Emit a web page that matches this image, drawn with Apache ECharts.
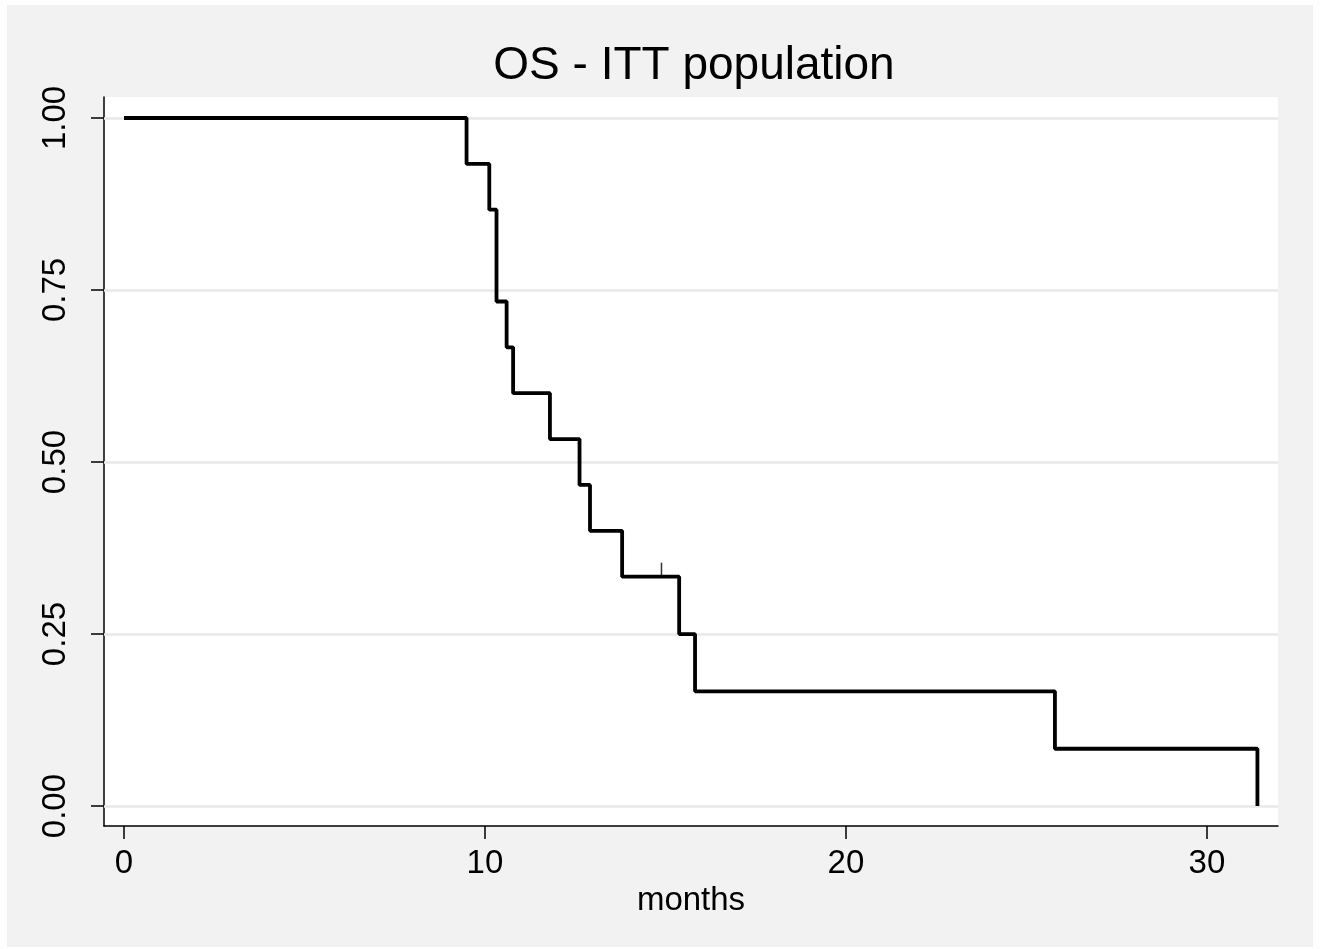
<!DOCTYPE html>
<html>
<head>
<meta charset="utf-8">
<script src="https://cdn.jsdelivr.net/npm/echarts@6/dist/echarts.min.js"></script>
<style>html,body{margin:0;padding:0;background:#fff}#c{width:1321px;height:949px}</style>
</head>
<body>
<div id="c"></div>
<script>
// Kaplan-Meier step data (months, survival probability)
const months = [0, 9.49, 10.12, 10.32, 10.60, 10.78, 11.80, 12.62, 12.91, 13.80, 15.38, 15.82, 25.79, 31.40];
const survival = [1.0, 0.9333, 0.8667, 0.7333, 0.6667, 0.6, 0.5333, 0.4667, 0.4, 0.3333, 0.25, 0.1667, 0.0833, 0.0];
const censorMonths = [14.89];
const censorSurvival = [0.3333];
const xTicks = [0, 10, 20, 30];
const yTicks = [0, 0.25, 0.5, 0.75, 1.0];
const yTickLabels = ['0.00', '0.25', '0.50', '0.75', '1.00'];

const font = 'Liberation Sans, Arial, Helvetica, sans-serif';
const chart = echarts.init(document.getElementById('c'), null, {renderer: 'canvas'});
chart.setOption({
  backgroundColor: '#ffffff',
  animation: false,
  graphic: [{
    type: 'rect', z: -10, silent: true,
    shape: {x: 7, y: 5, width: 1306, height: 942},
    style: {fill: '#f2f2f2'}
  }],
  title: {
    text: 'OS - ITT population',
    left: 689, top: 38, textAlign: 'center',
    textStyle: {fontFamily: font, fontSize: 46, fontWeight: 'normal', color: '#000'}
  },
  grid: {
    left: 104, top: 97, width: 1174, height: 729,
    show: true, backgroundColor: '#ffffff', borderWidth: 0
  },
  xAxis: {
    type: 'value', min: -0.554, max: 31.97,
    name: 'months', nameLocation: 'middle', nameGap: 54,
    nameTextStyle: {fontFamily: font, fontSize: 33, color: '#000'},
    axisLine: {show: true, onZero: false, lineStyle: {color: '#000', width: 1.5}},
    axisTick: {show: true, length: 13, customValues: xTicks, lineStyle: {color: '#000', width: 1.5}},
    axisLabel: {customValues: xTicks, fontFamily: font, fontSize: 33, color: '#000', margin: 21},
    splitLine: {show: false}
  },
  yAxis: {
    type: 'value', min: -0.029, max: 1.0305,
    axisLine: {show: true, onZero: false, lineStyle: {color: '#000', width: 1.5}},
    axisTick: {show: true, length: 13, customValues: yTicks, lineStyle: {color: '#000', width: 1.5}},
    axisLabel: {
      customValues: yTicks, rotate: 90, fontFamily: font, fontSize: 33, color: '#000', margin: 32,
      formatter: function (v) { const i = yTicks.indexOf(v); return i >= 0 ? yTickLabels[i] : ''; }
    },
    splitLine: {show: false}
  },
  series: [
    {
      type: 'line', step: 'end', symbol: 'none', z: 5,
      data: months.map((m, i) => [m, survival[i]]),
      lineStyle: {color: '#000', width: 3.8},
      markLine: {
        silent: true, symbol: 'none', z: 1,
        label: {show: false},
        lineStyle: {color: '#e8e8e8', width: 2.5, type: 'solid'},
        data: yTicks.map(v => ({yAxis: v}))
      }
    },
    {
      type: 'scatter', z: 6,
      data: censorMonths.map((m, i) => [m, censorSurvival[i]]),
      symbol: 'rect', symbolSize: [1.5, 14], symbolOffset: [0, -7],
      itemStyle: {color: '#000'}
    }
  ]
});
</script>
</body>
</html>
